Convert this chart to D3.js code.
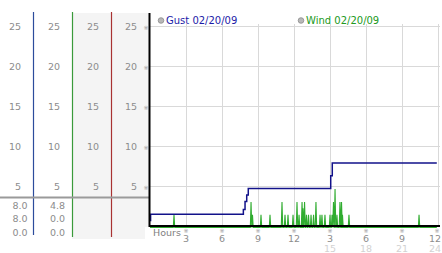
<!DOCTYPE html>
<html><head><meta charset="utf-8">
<script src="https://cdn.jsdelivr.net/npm/d3@7"></script>
<style>body{margin:0;background:#fff}svg{display:block}text{font-family:"DejaVu Sans",Verdana,sans-serif}</style>
</head><body><svg id="c" width="442" height="253"></svg>
<script>
// ---- data ----
const yTicks = [5, 10, 15, 20, 25];
const xTickHours = [3, 6, 9, 12, 15, 18, 21, 24];
const xTickLabels = ["3", "6", "9", "12", "3", "6", "9", "12"];
const xTickLabels2 = ["", "", "", "", "15", "18", "21", "24"];
const seriesNames = ["Gust 02/20/09", "Wind 02/20/09"];
const gustHours  = [0, 0.05, 7.78, 7.92, 8.06, 8.19, 15.06, 15.19, 23.9];
const gustValues = [0.8, 1.6, 2.2, 3.2, 4.0, 4.8, 6.4, 8.0, 8.0];
const windSpikeHours  = [2.0, 8.42, 8.54, 9.25, 10.0, 11.0, 11.25, 11.5, 11.92, 12.25, 12.42, 12.67, 12.75, 12.88, 13.04, 13.21, 13.42, 13.63, 13.83, 14.17, 14.33, 14.58, 15.0, 15.17, 15.29, 15.42, 15.58, 15.83, 15.96, 16.04, 16.58, 22.42];
const windSpikeValues = [1.6, 3.2, 1.6, 1.6, 1.6, 3.2, 1.6, 1.6, 1.6, 3.2, 1.6, 3.2, 2.4, 3.2, 1.6, 1.6, 1.6, 1.6, 3.2, 1.6, 1.6, 1.6, 1.6, 1.6, 3.2, 4.8, 1.6, 3.2, 3.2, 1.6, 1.6, 1.6];
const statRows = [["8.0", "8.0", "0.0"], ["4.8", "0.0", "0.0"]]; // per column: max, last, min

// ---- layout ----
const svg = d3.select("#c");
const x = d3.scaleLinear().domain([0, 24]).range([150, 438]);
const y = d3.scaleLinear().domain([0, 25]).range([227, 27]);
const colRights = [33, 72, 111, 149];
const colColors = ["#2c4c9c", "#3a9a3a", "#a83232"];

// left panel background
svg.append("rect").attr("x", 72).attr("y", 13).attr("width", 73).attr("height", 226).attr("fill", "#f4f4f4");
svg.append("rect").attr("x", 145).attr("y", 13).attr("width", 4).attr("height", 214).attr("fill", "#f4f4f4");

// column separators
colColors.forEach((c, i) => {
  svg.append("line").attr("x1", colRights[i] + 0.5).attr("x2", colRights[i] + 0.5)
    .attr("y1", 12).attr("y2", i === 0 ? 235 : 237).attr("stroke", c).attr("stroke-width", 1.2);
});

// column tick labels
colRights.forEach((r, i) => {
  svg.append("g").selectAll("text").data(yTicks).join("text")
    .attr("x", r - 12).attr("y", d => y(d) + 3)
    .attr("text-anchor", "end").attr("font-size", 9.5).attr("fill", "#8c8c8c").text(d => d);
});

// separator
svg.append("line").attr("x1", 0).attr("x2", 149).attr("y1", 197.5).attr("y2", 197.5)
  .attr("stroke", "#9a9a9a").attr("stroke-width", 2);

// stats
statRows.forEach((rows, i) => {
  svg.append("g").selectAll("text").data(rows).join("text")
    .attr("x", [27.5, 65][i]).attr("y", (d, j) => 208.5 + j * 13.8)
    .attr("text-anchor", "end").attr("font-size", 9.5).attr("fill", "#8c8c8c").text(d => d);
});

// grid
const grid = svg.append("g").attr("stroke", "#d9d9d9").attr("stroke-width", 1);
grid.selectAll("line.h").data(yTicks).join("line").attr("class", "h")
  .attr("x1", 150).attr("x2", 440).attr("y1", d => Math.round(y(d)) - 0.5).attr("y2", d => Math.round(y(d)) - 0.5);
grid.selectAll("line.v").data(xTickHours).join("line").attr("class", "v")
  .attr("x1", d => Math.round(x(d)) + 0.5).attr("x2", d => Math.round(x(d)) + 0.5).attr("y1", 24).attr("y2", 226);

// y tick marks
svg.append("g").selectAll("text").data(yTicks).join("text")
  .attr("x", 146).attr("y", d => y(d) + 2.5).attr("text-anchor", "middle")
  .attr("font-size", 6).attr("fill", "#999").text("※");

// wind line
const windPts = [[0, 0]];
windSpikeHours.forEach((h, i) => {
  windPts.push([h - 0.06, 0], [h, windSpikeValues[i]], [h + 0.06, 0]);
});
windPts.push([23.9, 0]);
svg.append("path").datum(windPts)
  .attr("d", d3.line().x(d => x(d[0])).y(d => y(d[1]) + 0.5))
  .attr("fill", "none").attr("stroke", "#30ac30").attr("stroke-width", 1.1);

// gust line
const gustPts = gustHours.map((h, i) => [h, gustValues[i]]);
svg.append("path").datum(gustPts)
  .attr("d", d3.line().x(d => x(d[0])).y(d => y(d[1])).curve(d3.curveStepAfter))
  .attr("fill", "none").attr("stroke", "#12128a").attr("stroke-width", 1.5);

// axes lines
svg.append("line").attr("x1", 149.5).attr("x2", 149.5).attr("y1", 13).attr("y2", 227)
  .attr("stroke", "#000").attr("stroke-width", 2);
svg.append("line").attr("x1", 149).attr("x2", 440).attr("y1", 226).attr("y2", 226)
  .attr("stroke", "#000").attr("stroke-width", 2);

// x ticks
const last = xTickHours.length - 1;
const lx = (d, i) => i === last ? 441 : x(d);
const la = (d, i) => i === last ? "end" : "middle";
const xt = svg.append("g");
xt.selectAll("text.m").data(xTickHours).join("text").attr("class", "m")
  .attr("x", d => Math.min(x(d), 437)).attr("y", 232.5).attr("text-anchor", "middle")
  .attr("font-size", 6).attr("fill", "#999").text("※");
xt.selectAll("text.l").data(xTickHours).join("text").attr("class", "l")
  .attr("x", lx).attr("y", 242).attr("text-anchor", la)
  .attr("font-size", 9.5).attr("fill", "#8c8c8c").text((d, i) => xTickLabels[i]);
xt.selectAll("text.l2").data(xTickHours).join("text").attr("class", "l2")
  .attr("x", lx).attr("y", 251.5).attr("text-anchor", la)
  .attr("font-size", 9.5).attr("fill", "#d2d2d2").text((d, i) => xTickLabels2[i]);
svg.append("text").attr("x", 153).attr("y", 235.5).attr("font-size", 9.5).attr("fill", "#808080").text("Hours");

// legend
const legend = [[161, "#1c1ca8"], [301, "#229922"]];
legend.forEach(([cx, c], i) => {
  svg.append("circle").attr("cx", cx).attr("cy", 20.5).attr("r", 2.8)
    .attr("fill", "#b8b8b8").attr("stroke", "#8a8a8a").attr("stroke-width", 0.8);
  svg.append("text").attr("x", cx + 5).attr("y", 24).attr("font-size", 10).attr("fill", c).text(seriesNames[i]);
});
</script></body></html>
